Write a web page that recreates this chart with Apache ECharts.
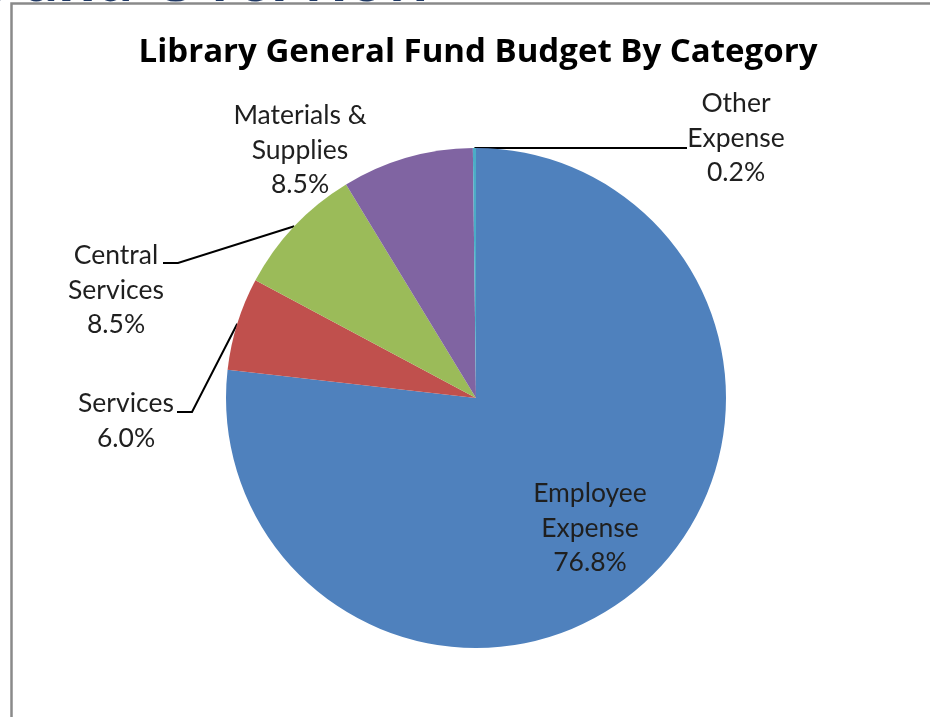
<!DOCTYPE html>
<html>
<head>
<meta charset="utf-8">
<title>Library General Fund Budget By Category</title>
<script src="https://cdn.jsdelivr.net/npm/echarts@6/dist/echarts.min.js"></script>
<style>
  html, body { margin: 0; padding: 0; background: #ffffff; }
  #chart { width: 930px; height: 717px; }
</style>
</head>
<body>
<div id="chart"></div>
<script>
// Budget shares by category (percent of the general fund)
const categories = ['Employee\nExpense', 'Services', 'Central\nServices', 'Materials &\nSupplies', 'Other\nExpense'];
const shares = [76.8, 6.0, 8.5, 8.5, 0.2];
const colors = ['#4F81BD', '#C0504D', '#9BBB59', '#8064A2', '#4BACC6'];

const chartTitle = 'Library General Fund Budget By Category';
const pageHeading = 'Fund Overview';

const LABEL_FONT = 'Lato, "Open Sans", sans-serif';
const TITLE_FONT = '"Open Sans", Lato, sans-serif';
const CX = 476, CY = 398, R = 250;

// Where each label's text block is centred, and whether it gets a leader line
const labelSpots = [
  { x: 590, y: 528, line: false },
  { x: 126, y: 421, line: true, elbow: [192, 412], end: [177, 412] },
  { x: 116, y: 290, line: true, elbow: [178, 263], end: [163, 263] },
  { x: 300, y: 150, line: false },
  { x: 736, y: 138, line: true, elbow: null, end: [687, 148] }
];

// Point on the rim at the middle of slice i (clockwise from 12 o'clock)
const total = shares.reduce((a, b) => a + b, 0);
function rimPoint(i) {
  let before = 0;
  for (let k = 0; k < i; k++) before += shares[k];
  const mid = (before + shares[i] / 2) / total * 2 * Math.PI;
  return [CX + R * Math.sin(mid), CY - R * Math.cos(mid)];
}

const chart = echarts.init(document.getElementById('chart'), null, { renderer: 'canvas' });

chart.setOption({
  animation: false,
  backgroundColor: '#ffffff',
  title: {
    text: chartTitle,
    left: 473,
    textAlign: 'center',
    top: 31,
    textStyle: { fontFamily: TITLE_FONT, fontWeight: 'bold', fontSize: 33, color: '#000000' }
  },
  graphic: [
    {
      type: 'text',
      left: -14,
      top: -53.5,
      z: 1,
      style: {
        text: pageHeading,
        font: 'bold 66px ' + LABEL_FONT,
        fill: '#1F3864'
      }
    },
    {
      type: 'polyline',
      z: 2,
      shape: { points: [[11.5, 717], [11.5, 3.5], [930, 3.5]] },
      style: { stroke: '#8a8a8a', lineWidth: 2.5, fill: null }
    }
  ],
  series: [{
    type: 'pie',
    center: [CX, CY],
    radius: R,
    startAngle: 90,
    clockwise: true,
    label: {
      show: true,
      position: 'outside',
      fontFamily: LABEL_FONT,
      fontSize: 26.5,
      lineHeight: 34.5,
      color: '#1f1f1f',
      align: 'center',
      formatter: p => p.name + '\n' + p.value.toFixed(1) + '%'
    },
    labelLine: { show: true, lineStyle: { color: '#000000', width: 2 } },
    itemStyle: { borderWidth: 0 },
    emphasis: { disabled: true },
    labelLayout: function (params) {
      const s = labelSpots[params.dataIndex];
      const out = { x: s.x, y: s.y, align: 'center', verticalAlign: 'middle' };
      if (s.line) {
        const pts = [rimPoint(params.dataIndex)];
        if (s.elbow) pts.push(s.elbow);
        pts.push(s.end);
        out.labelLinePoints = pts;
      }
      return out;
    },
    data: categories.map((name, i) => ({
      name: name,
      value: shares[i],
      itemStyle: { color: colors[i] },
      labelLine: { show: labelSpots[i].line }
    }))
  }]
});
</script>
</body>
</html>
